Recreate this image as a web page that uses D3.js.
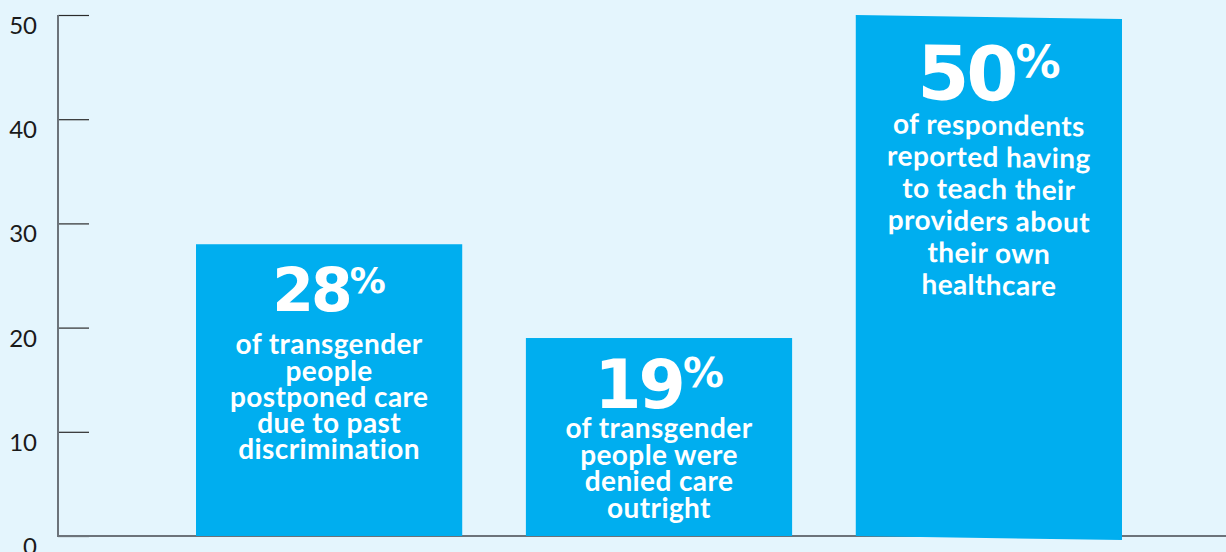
<!DOCTYPE html>
<html>
<head>
<meta charset="utf-8">
<script src="https://cdn.jsdelivr.net/npm/d3@7"></script>
<style>
  html, body { margin: 0; padding: 0; background: #e4f5fd; }
  svg { display: block; }
</style>
</head>
<body>
<div id="chart"></div>
<script>
// Data
const categories = ["postponed", "denied", "teach"];
const percentages = [28, 19, 50];
const descriptions = [
    ["of transgender", "people", "postponed care", "due to past", "discrimination"],
    ["of transgender", "people were", "denied care", "outright"],
    ["of respondents", "reported having", "to teach their", "providers about", "their own", "healthcare"]
];
const yTicks = [0, 10, 20, 30, 40, 50];

// SVG dimensions
const width = 1226;
const height = 552;

const svg = d3.select("#chart")
    .append("svg")
    .attr("width", width)
    .attr("height", height);

svg.append("rect")
    .attr("width", width)
    .attr("height", height)
    .attr("fill", "#e4f5fd");

// Scales
const xScale = d3.scaleBand()
    .domain(categories)
    .range([196, 1122])
    .paddingInner(0.193)
    .paddingOuter(0);

const yScale = d3.scaleLinear()
    .domain([0, 50])
    .range([536, 15]);

const axisX = 58;

// Y axis: ticks point inward, labels sit a bit below each tick
const yAxis = d3.axisRight(yScale)
    .tickValues(yTicks)
    .tickSize(31)
    .tickFormat("");

const yAxisG = svg.append("g")
    .attr("transform", `translate(${axisX},0)`)
    .call(yAxis);
yAxisG.select(".domain").remove();
yAxisG.selectAll(".tick line")
    .attr("stroke", "#2b2b2b")
    .attr("stroke-width", 1.2);

svg.append("line")
    .attr("x1", axisX).attr("x2", axisX)
    .attr("y1", yScale(50)).attr("y2", yScale(0) + 1)
    .attr("stroke", "#6c737a")
    .attr("stroke-width", 2);

svg.selectAll("text.ytick")
    .data(yTicks)
    .enter()
    .append("text")
    .attr("class", "ytick")
    .attr("x", 37)
    .attr("y", d => yScale(d) + 19)
    .attr("text-anchor", "end")
    .style("font-family", "Lato, 'Open Sans', sans-serif")
    .style("font-size", "24px")
    .style("fill", "#1a1a1a")
    .text(d => d);

// X axis baseline
svg.append("line")
    .attr("x1", axisX).attr("x2", width)
    .attr("y1", yScale(0)).attr("y2", yScale(0))
    .attr("stroke", "#6c737a")
    .attr("stroke-width", 2);

// per-bar label layout (big number size, offsets from bar top, line spacing)
const layout = [
    {num: 60, numBase: 67, bodyBase: 110, lineGap: 26.3, skew: 0},
    {num: 68, numBase: 70, bodyBase: 100, lineGap: 26.7, skew: 0},
    {num: 75, numBase: 83, bodyBase: 118, lineGap: 32, skew: 0.85}
];

categories.forEach((cat, i) => {
    const x0 = xScale(cat);
    const bw = xScale.bandwidth();
    const top = yScale(percentages[i]);
    const cx = x0 + bw / 2;
    const L = layout[i];

    // third bar is a slightly tilted picture in the reference
    const g = svg.append("g")
        .attr("transform", `translate(${x0},${top}) skewY(${L.skew}) translate(${-x0},${-top})`);

    g.append("rect")
        .attr("x", x0)
        .attr("y", top)
        .attr("width", bw)
        .attr("height", yScale(0) - top)
        .attr("fill", "#00aeef");

    const num = g.append("text")
        .attr("x", cx)
        .attr("y", top + L.numBase)
        .attr("text-anchor", "middle")
        .style("font-family", "'DejaVu Sans', sans-serif")
        .style("font-weight", "bold")
        .style("fill", "#ffffff");
    num.append("tspan")
        .style("font-size", L.num + "px")
        .style("letter-spacing", "-3px")
        .text(percentages[i]);
    num.append("tspan")
        .attr("dy", -L.num * 0.31)
        .style("font-size", (L.num * 0.6) + "px")
        .text("%");

    g.selectAll("text.desc")
        .data(descriptions[i])
        .enter()
        .append("text")
        .attr("class", "desc")
        .attr("x", cx)
        .attr("y", (d, j) => top + L.bodyBase + j * L.lineGap)
        .attr("text-anchor", "middle")
        .style("font-family", "Lato, 'Open Sans', sans-serif")
        .style("font-weight", "bold")
        .style("font-size", "28px")
        .style("letter-spacing", "0.4px")
        .style("fill", "#ffffff")
        .text(d => d);
});
</script>
</body>
</html>
